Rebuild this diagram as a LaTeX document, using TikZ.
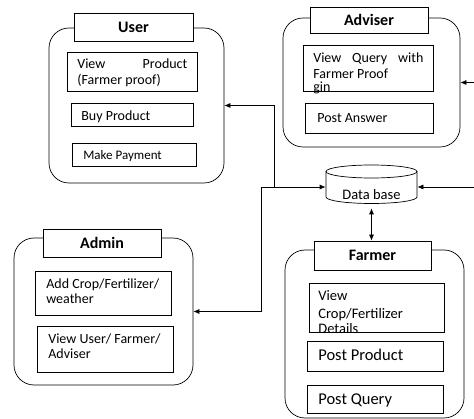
\documentclass[tikz,border=0pt]{standalone}
\usepackage{fontspec}
\setmainfont{Carlito}
\usetikzlibrary{arrows.meta}
\begin{document}
\begin{tikzpicture}[x=1pt,y=-1pt,
  every path/.style={line width=0.7pt},
  cont/.style={draw, rounded corners=20pt, line width=0.7pt, inner sep=0pt},
  tbox/.style={draw, fill=white, line width=0.7pt, inner sep=0pt, font=\bfseries\fontsize{16}{19}\selectfont},
  ibox/.style={draw, line width=0.7pt, inner sep=0pt},
  txt/.style={inner sep=0pt, anchor=base west, font=\fontsize{14}{16}\selectfont},
  arr/.style={-{Latex[length=6pt,width=5pt]}},
  darr/.style={{Latex[length=6pt,width=5pt]}-{Latex[length=6pt,width=5pt]}}]
\useasboundingbox (0,0) rectangle (474,419);

% ---------- User ----------
\node[cont, minimum width=175pt, minimum height=155pt] (user) at (136.5,105.5) {};
\node[tbox, minimum width=119pt, minimum height=28pt] (utitle) at (133.5,27) {User};
\node[ibox, minimum width=130pt, minimum height=39pt] (u1) at (132,71.5) {};
\node[ibox, minimum width=122pt, minimum height=23pt] (u2) at (132,114.5) {};
\node[ibox, minimum width=124pt, minimum height=23pt] (u3) at (134,154.5) {};
\node[txt] (u1a) at (77,69) {\makebox[110pt][s]{View Product}};
\node[txt] (u1b) at (77,85) {(Farmer proof)};
\node[txt] (u2t) at (81,121) {Buy Product};
\node[txt, font=\fontsize{13}{15}\selectfont] (u3t) at (83,160) {Make Payment};

% ---------- Adviser ----------
\node[cont, minimum width=177pt, minimum height=129pt] (adviser) at (371.5,82.5) {};
\node[tbox, minimum width=118pt, minimum height=26pt] (atitle) at (369,20) {Adviser};
\node[ibox, minimum width=130pt, minimum height=46pt] (a1) at (368,68) {};
\node[ibox, minimum width=128pt, minimum height=30pt] (a2) at (369,118) {};
\node[txt] (a1a) at (313,63) {\makebox[110pt][s]{View Query with}};
\node[txt] (a1b) at (313,79) {Farmer Proof};
\node[txt] (a1c) at (313,92) {gin};
\node[txt] (a2t) at (317,123) {Post Answer};

% ---------- Admin ----------
\node[cont, minimum width=179pt, minimum height=147pt] (admin) at (103.5,311.5) {};
\node[tbox, minimum width=118pt, minimum height=28pt] (dtitle) at (102,243) {Admin};
\node[ibox, minimum width=136pt, minimum height=44pt] (d1) at (103,293) {};
\node[ibox, minimum width=136pt, minimum height=46pt] (d2) at (105,349) {};
\node[txt] (d1a) at (46,289) {Add Crop/Fertilizer/};
\node[txt] (d1b) at (46,304) {weather};
\node[txt] (d2a) at (48,344) {View User/ Farmer/};
\node[txt] (d2b) at (48,359) {Adviser};

% ---------- Farmer ----------
\node[cont, minimum width=179pt, minimum height=168pt] (farmer) at (374.5,334) {};
\node[tbox, minimum width=117pt, minimum height=29pt] (ftitle) at (372.5,255.5) {Farmer};
\node[ibox, minimum width=135pt, minimum height=49pt] (f1) at (376.5,307.5) {};
\node[ibox, minimum width=136pt, minimum height=30pt] (f2) at (375,356) {};
\node[ibox, minimum width=136pt, minimum height=28pt] (f3) at (375,399) {};
\node[txt, font=\fontsize{14.5}{17}\selectfont] (f1a) at (318,301) {View};
\node[txt, font=\fontsize{14.5}{17}\selectfont] (f1b) at (318,319) {Crop/Fertilizer};
\node[txt, font=\fontsize{14.5}{17}\selectfont] (f1c) at (318,334) {Details};
\node[txt, font=\fontsize{16.5}{19}\selectfont] (f2t) at (318,361) {Post Product};
\node[txt, font=\fontsize{16.5}{19}\selectfont] (f3t) at (318,405) {Post Query};

% ---------- Data base ----------
\node[inner sep=0pt, minimum width=91pt, minimum height=38.5pt] (db) at (371.5,184.25) {};
\draw (371.5,171.5) ellipse [x radius=45.5pt, y radius=6.5pt];
\draw (326,171.5) -- (326,197) arc[start angle=180, end angle=360, x radius=45.5pt, y radius=6.5pt] -- (417,171.5);
\node[txt, anchor=center, font=\fontsize{14.5}{17}\selectfont] (dbt) at (371.5,194.5) {Data base};

% ---------- Connectors ----------
\coordinate (j1) at (274,187);
\coordinate (j2) at (261,187);
\coordinate (r1) at (474,187);
\coordinate (r2) at (474,82.5);
\draw[arr] (j1) |- (user.east);
\draw[arr] (j2) |- (admin.east);
\draw[arr] (j2) -- (db.west |- j2);
\draw[arr] (r1) -- (db.east |- r1);
\draw[arr] (r2) -- (adviser.east);
\draw[darr] ([yshift=-4.5pt]db.south) -- (db.south |- ftitle.north);
\end{tikzpicture}
\end{document}
